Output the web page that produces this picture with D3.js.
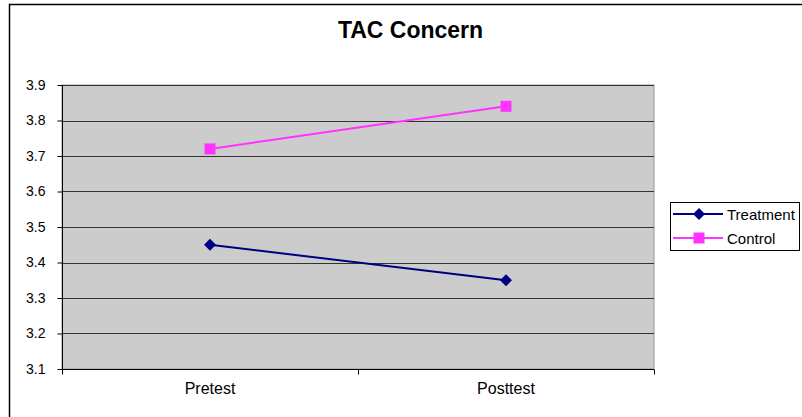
<!DOCTYPE html>
<html><head><meta charset="utf-8">
<script src="https://cdn.jsdelivr.net/npm/d3@7"></script>
<style>
html,body{margin:0;padding:0;background:#fff;}
svg{display:block;font-family:"Liberation Sans",Arial,sans-serif;}
</style></head>
<body>
<svg id="chart" width="802" height="417"></svg>
<script>
const categories = ["Pretest", "Posttest"];
const treatment = [3.45, 3.35];
const control = [3.72, 3.84];
const yTicks = [3.1, 3.2, 3.3, 3.4, 3.5, 3.6, 3.7, 3.8, 3.9];
const seriesNames = ["Treatment", "Control"];
const title = "TAC Concern";

const svg = d3.select("#chart");
const plot = {left: 62, right: 654, top: 85, bottom: 369};

// outer chart border
svg.append("rect").attr("x", 9.5).attr("y", 4.5).attr("width", 820).attr("height", 430)
  .attr("fill", "#fff").attr("stroke", "#000").attr("stroke-width", 1.5);

svg.append("text").attr("x", 410.5).attr("y", 38).attr("text-anchor", "middle")
  .attr("font-size", 23).attr("font-weight", "bold").text(title);

const x = d3.scaleBand().domain(categories).range([plot.left, plot.right]);
const y = d3.scaleLinear().domain([3.1, 3.9]).range([plot.bottom, plot.top]);

// plot background
svg.append("rect").attr("x", plot.left).attr("y", plot.top)
  .attr("width", plot.right - plot.left).attr("height", plot.bottom - plot.top)
  .attr("fill", "#cccccc").attr("stroke", "#999").attr("stroke-width", 1);

// gridlines
svg.append("g").selectAll("line").data(yTicks.filter(t => t > 3.1)).join("line")
  .attr("x1", plot.left).attr("x2", plot.right)
  .attr("y1", d => Math.round(y(d)) + 0.5).attr("y2", d => Math.round(y(d)) + 0.5)
  .attr("stroke", "#333").attr("stroke-width", 1);

// y axis
const yAxis = d3.axisLeft(y).tickValues(yTicks).tickFormat(d3.format(".1f")).tickSize(5).tickPadding(12);
const gy = svg.append("g").attr("transform", `translate(${plot.left + 0.5},0)`).call(yAxis);
gy.select(".domain").attr("stroke", "#000").attr("d", `M0,${plot.top}V${plot.bottom}`);
gy.selectAll(".tick line").attr("stroke", "#000").attr("x2", -5).attr("x1", 0);
gy.selectAll(".tick text").attr("font-size", 14).attr("fill", "#000").attr("font-family", "Liberation Sans, Arial, sans-serif");

// x axis
const xAxis = d3.axisBottom(x).tickSize(0).tickPadding(13);
const gx = svg.append("g").attr("transform", `translate(0,${plot.bottom + 0.5})`).call(xAxis);
gx.select(".domain").attr("stroke", "#000").attr("d", `M${plot.left},0H${plot.right}`);
gx.selectAll(".tick text").attr("font-size", 16).attr("fill", "#000").attr("font-family", "Liberation Sans, Arial, sans-serif");
// category boundary ticks
const bounds = [plot.left, plot.left + x.bandwidth(), plot.right];
gx.append("g").selectAll("line").data(bounds).join("line")
  .attr("x1", d => Math.round(d) + 0.5).attr("x2", d => Math.round(d) + 0.5)
  .attr("y1", 0).attr("y2", 5).attr("stroke", "#000");

const cx = c => x(c) + x.bandwidth() / 2;
const line = d3.line().x(d => cx(d.c)).y(d => y(d.v));

const series = [
  {name: seriesNames[0], values: treatment, color: "#000080", shape: "diamond"},
  {name: seriesNames[1], values: control, color: "#ff33ff", shape: "square"}
];

function marker(g, s, px, py) {
  if (s.shape === "diamond") {
    g.append("path").attr("d", `M${px},${py - 6}L${px + 6},${py}L${px},${py + 6}L${px - 6},${py}Z`).attr("fill", s.color);
  } else {
    g.append("rect").attr("x", px - 5.5).attr("y", py - 5.5).attr("width", 11).attr("height", 11).attr("fill", s.color);
  }
}

series.forEach(s => {
  const pts = categories.map((c, i) => ({c, v: s.values[i]}));
  svg.append("path").datum(pts).attr("d", line).attr("fill", "none").attr("stroke", s.color).attr("stroke-width", 2);
  const g = svg.append("g");
  pts.forEach(p => marker(g, s, cx(p.c), y(p.v)));
});

// legend
const lg = svg.append("g");
lg.append("rect").attr("x", 670.5).attr("y", 202.5).attr("width", 129).attr("height", 48)
  .attr("fill", "#fff").attr("stroke", "#000");
series.forEach((s, i) => {
  const ly = 214 + i * 24;
  lg.append("line").attr("x1", 673).attr("x2", 723).attr("y1", ly).attr("y2", ly).attr("stroke", s.color).attr("stroke-width", 2);
  marker(lg, s, 699, ly);
  lg.append("text").attr("x", 727).attr("y", ly + 5.5).attr("font-size", 15).text(s.name);
});
</script>
</body></html>
